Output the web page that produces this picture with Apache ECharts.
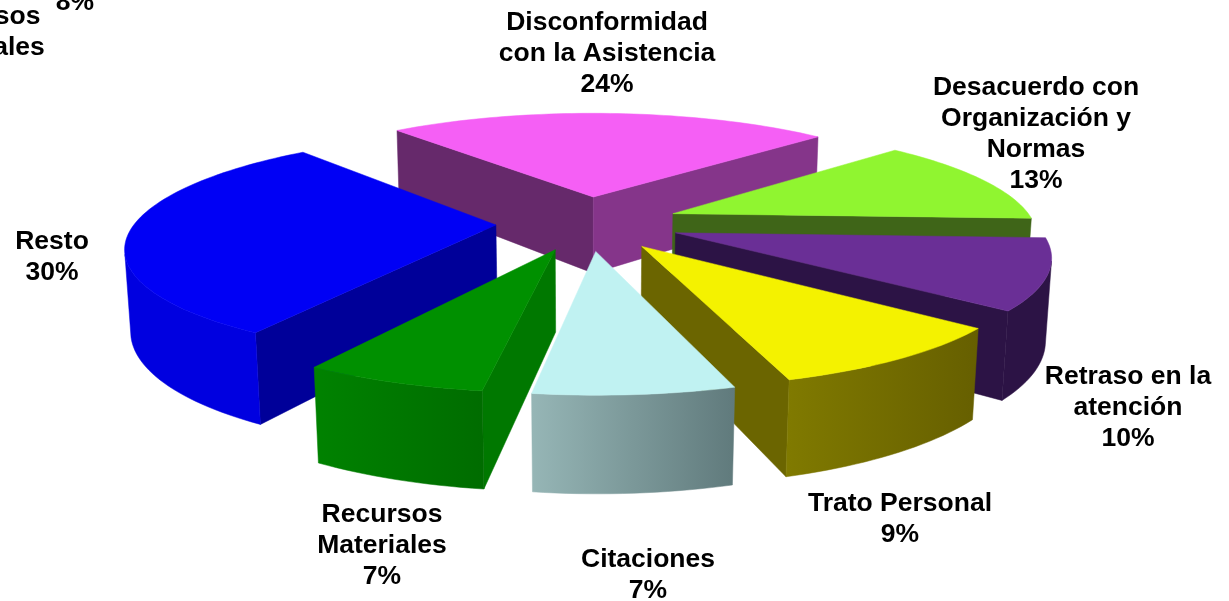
<!DOCTYPE html>
<html><head><meta charset="utf-8">
<style>html,body{margin:0;padding:0;background:#fff;overflow:hidden}#c{width:1229px;height:601px}</style>
<script src="https://cdn.jsdelivr.net/npm/echarts@6/dist/echarts.min.js"></script>
</head><body><div id="c"></div>
<script>
var categories = ['Disconformidad\ncon la Asistencia','Desacuerdo con\nOrganización y\nNormas','Retraso en la\natención','Trato Personal','Citaciones','Recursos\nMateriales','Resto'];
// shares; the labels show them rounded
var shares = [24.03,12.72,10.14,9.33,7.11,6.53,30.14];
var labelCentres = [[607,54],[1036,134],[1128,408],[900,519],[648,575],[382,546],[52,257]];
var topColors = ['#f55ff5','#90f530','#6a2f96','#f4f200','#c0f2f2','#009000','#0000f5'];
var startFaceColors = ['#66296b','#3f6518','#2c1345','#6b6500','#96b6b6','#007800','#000099'];
var endFaceColors = ['#85358a','#3f6518','#2c1345','#6b6500','#607a7c','#007800','#000099'];
var wallColors = [['#85358a','#85358a'],['#3f6518','#3f6518'],['#2c1345','#2c1345'],['#807a00','#665f00'],['#96b6b6','#607a7c'],['#008200','#006c00'],['#0000e0','#0000e0']];
var strayLabels = [['Recursos\nMateriales\n8%',-20,48],['8%',75,3]];

var geo = {cx:588, cy:223, R:361, E:92, H:84, sinE:0.296, d:1950, first:-39.8};
var cosE = Math.sqrt(1-geo.sinE*geo.sinE);
var rad = Math.PI/180;
function project(x,y,z){
  var W = y*cosE + z*geo.sinE, s = geo.d/(geo.d-W);
  return [geo.cx + x*s, geo.cy + (y*geo.sinE - z*cosE)*s];
}
function sliceAngles(){
  var a = geo.first, out=[];
  shares.forEach(function(p){ var b=a+p*3.6; out.push([a,b]); a=b; });
  return out;
}
var angles = sliceAngles();
function faces(i){
  var a=angles[i][0], b=angles[i][1], m=(a+b)/2;
  var ox=Math.sin(m*rad)*geo.E, oy=-Math.cos(m*rad)*geo.E;
  var camY=geo.d*cosE;
  function pt(t,r,z){return [ox+Math.sin(t*rad)*r, oy-Math.cos(t*rad)*r, z];}
  function P(p){return project(p[0],p[1],p[2]);}
  function facing(nx,ny,p){return nx*(0-p[0])+ny*(camY-p[1])>0;}
  var n=Math.max(8,Math.ceil((b-a)/1.5)), list=[], topPts=[P([ox,oy,0])], wallTop=[], wallBot=[];
  for(var k=0;k<=n;k++){
    var t=a+(b-a)*k/n, p=pt(t,geo.R,0);
    topPts.push(P(p));
    if(facing(Math.sin(t*rad),-Math.cos(t*rad),p)){ wallTop.push(P(p)); wallBot.unshift(P(pt(t,geo.R,-geo.H))); }
  }
  if(facing(-Math.cos(a*rad),-Math.sin(a*rad),[ox,oy,0]))
    list.push({pts:[P([ox,oy,0]),P(pt(a,geo.R,0)),P(pt(a,geo.R,-geo.H)),P([ox,oy,-geo.H])],fill:startFaceColors[i]});
  if(facing(Math.cos(b*rad),Math.sin(b*rad),[ox,oy,0]))
    list.push({pts:[P([ox,oy,0]),P(pt(b,geo.R,0)),P(pt(b,geo.R,-geo.H)),P([ox,oy,-geo.H])],fill:endFaceColors[i]});
  if(wallTop.length>1)
    list.push({pts:wallTop.concat(wallBot),fill:new echarts.graphic.LinearGradient(0,0,1,0,[{offset:0,color:wallColors[i][0]},{offset:1,color:wallColors[i][1]}])});
  list.push({pts:topPts,fill:topColors[i]});
  return list;
}
// painter's order: far slices first
var order = shares.map(function(_,i){return i;}).sort(function(p,q){
  return Math.cos((angles[q][0]+angles[q][1])/2*rad)<Math.cos((angles[p][0]+angles[p][1])/2*rad)?-1:1;
});
var font = 'bold 26.5px "Liberation Sans", Arial, sans-serif';
var seriesData = order.map(function(i){return {name:categories[i],value:[i,shares[i]]};});
function renderSlice(params,api){
  var i=api.value(0);
  return {type:'group',children:faces(i).map(function(f){
    return {type:'polygon',shape:{points:f.pts},style:{fill:f.fill,stroke:f.fill,lineWidth:0.5}};
  })};
}
function textEl(txt,x,y){
  return {type:'text',z:10,style:{text:txt,x:x,y:y,font:font,fill:'#000',align:'center',verticalAlign:'middle',lineHeight:31}};
}
var chart = echarts.init(document.getElementById('c'),null,{renderer:'canvas'});
chart.setOption({
  animation:false,
  backgroundColor:'#fff',
  series:[{type:'custom',coordinateSystem:'none',silent:true,data:seriesData,renderItem:renderSlice,encode:{value:1}}],
  graphic:categories.map(function(c,i){
    return textEl(c+'\n'+Math.round(shares[i])+'%',labelCentres[i][0],labelCentres[i][1]);
  }).concat(strayLabels.map(function(s){return textEl(s[0],s[1],s[2]);}))
});
</script></body></html>
